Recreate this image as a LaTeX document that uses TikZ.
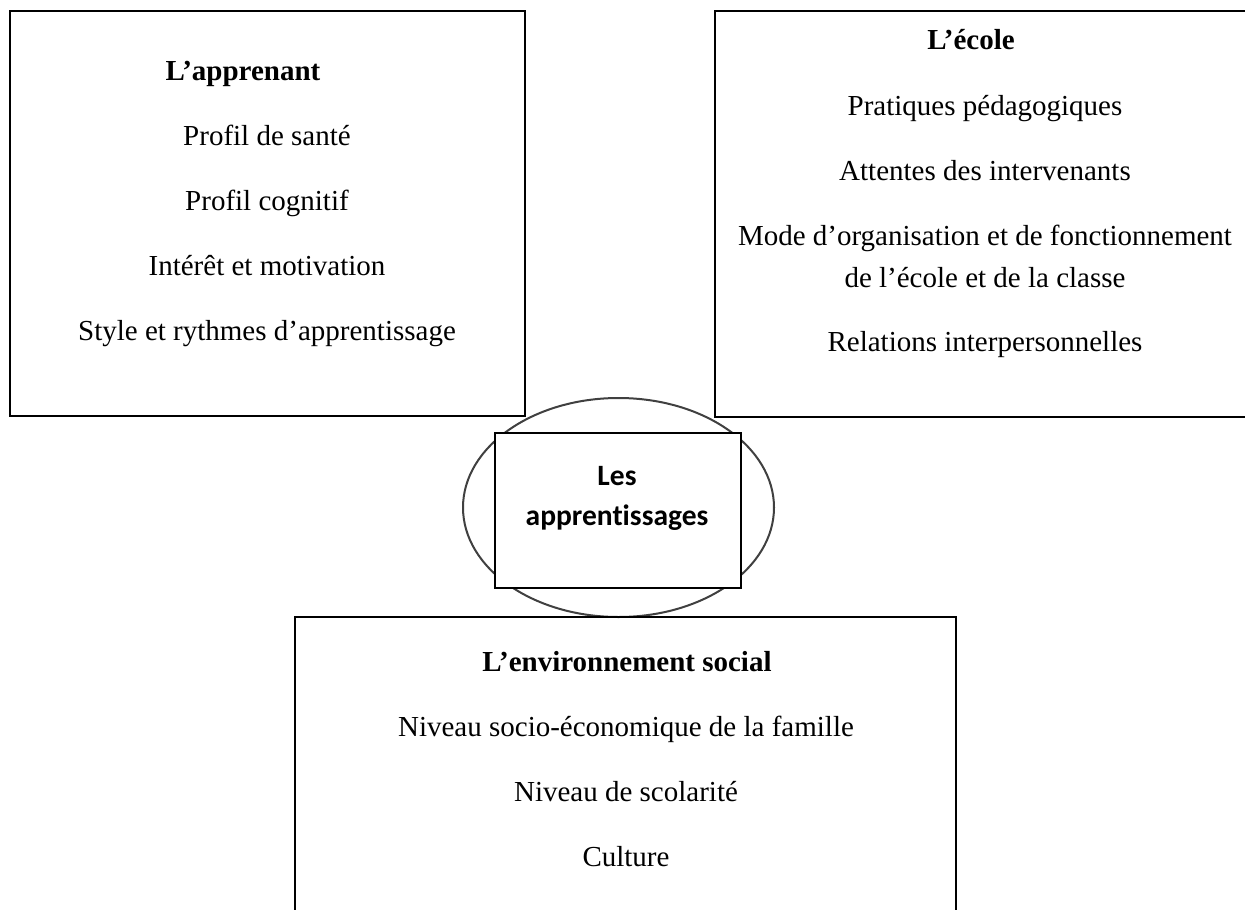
\documentclass[tikz,border=0pt]{standalone}
\usepackage{fontspec}
\setmainfont{Liberation Serif}
\newfontfamily\calib[Ligatures={NoCommon}]{Carlito}
\usetikzlibrary{shapes.geometric}
\begin{document}
\begin{tikzpicture}[x=1pt,y=-1pt,
  frame/.style={draw=black, line width=2.6pt, inner sep=0pt},
  txt/.style={font=\fontsize{29}{34}\selectfont, anchor=base, inner sep=0pt},
  ttl/.style={font=\fontsize{29}{34}\selectfont\bfseries, anchor=base, inner sep=0pt},
  ctxt/.style={font={\fontsize{29.5}{34}\calib\bfseries}, anchor=base, inner sep=0pt},
  ]
\useasboundingbox (0,0) rectangle (1245,910);
\fill[white] (0,0) rectangle (1245,910);
\begin{scope}
\clip (0,0) rectangle (1245,910);
% ellipse and core box
\node[ellipse, draw=black!75, line width=2pt, minimum width=311pt, minimum height=219pt, inner sep=0pt] (ell) at (618.5,507.5) {};
\node[frame, fill=white, minimum width=246pt, minimum height=155pt] (core) at (618,510.5) {};
% outer boxes
\node[frame, minimum width=515pt, minimum height=405pt] (lbox) at (267.5,213.5) {};
\node[frame, minimum width=545pt, minimum height=406pt] (rbox) at (987.5,214) {};
\node[frame, minimum width=661pt, minimum height=323pt] (bbox) at (625.5,778.5) {};
\end{scope}
% centre text
\node[ctxt] (c1) at (617,485) {Les};
\node[ctxt] (c2) at (617,525) {apprentissages};
% left box
\node[ttl] (l0) at (243,80) {L’apprenant};
\node[txt] (l1) at (267,145) {Profil de santé};
\node[txt] (l2) at (267,210) {Profil cognitif};
\node[txt] (l3) at (267,275) {Intérêt et motivation};
\node[txt] (l4) at (267,340) {Style et rythmes d’apprentissage};
% right box
\node[ttl] (r0) at (971,49) {L’école};
\node[txt] (r1) at (985,115) {Pratiques pédagogiques};
\node[txt] (r2) at (985,180) {Attentes des intervenants};
\node[txt] (r3) at (985,245) {Mode d’organisation et de fonctionnement};
\node[txt] (r4) at (985,287) {de l’école et de la classe};
\node[txt] (r5) at (985,351) {Relations interpersonnelles};
% bottom box
\node[ttl] (b0) at (627,671) {L’environnement social};
\node[txt] (b1) at (626,736) {Niveau socio-économique de la famille};
\node[txt] (b2) at (626,801) {Niveau de scolarité};
\node[txt] (b3) at (626,866) {Culture};
\end{tikzpicture}
\end{document}
